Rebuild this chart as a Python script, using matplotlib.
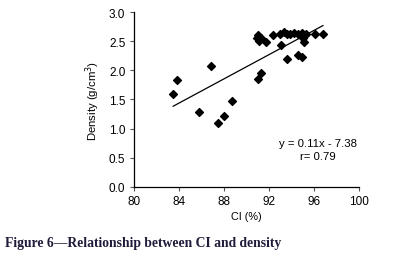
import numpy as np
from matplotlib import pyplot as plt

# values
ci = [83.5, 83.8, 85.8, 86.9, 87.5, 88.0, 88.7, 91.0, 91.3,
      90.95, 91.0, 91.1, 91.3, 91.7, 92.4, 93.0, 93.3, 93.6, 93.85,
      94.2, 94.6, 94.9, 95.2, 95.3, 95.0, 93.1, 93.6, 94.6, 94.9,
      95.1, 96.1, 96.8]
density = [1.60, 1.83, 1.29, 2.07, 1.09, 1.22, 1.47, 1.85, 1.95,
           2.56, 2.60, 2.51, 2.55, 2.48, 2.60, 2.63, 2.65, 2.63, 2.62,
           2.64, 2.62, 2.64, 2.60, 2.63, 2.56, 2.43, 2.19, 2.26, 2.22,
           2.49, 2.63, 2.63]
fit_slope = 0.104
fit_intercept = -7.30
eq_text = 'y = 0.11x - 7.38\nr= 0.79'
x_ticks = [80, 84, 88, 92, 96, 100]
y_ticks = [0.0, 0.5, 1.0, 1.5, 2.0, 2.5, 3.0]

plt.rcParams['font.family'] = ['Liberation Sans', 'DejaVu Sans']

fig = plt.figure(figsize=(3.98, 2.55), dpi=100)
ax = fig.add_axes([0.336, 0.263, 0.566, 0.686])

ax.scatter(ci, density, marker='D', s=16, color='black', zorder=3)
x_line = np.array([min(ci), max(ci)])
ax.plot(x_line, fit_slope * x_line + fit_intercept, color='black', lw=0.9)

ax.set_xlim(80, 100)
ax.set_ylim(0, 3.0)
ax.set_xticks(x_ticks)
ax.set_yticks(y_ticks)
ax.set_yticklabels(['%.1f' % v for v in y_ticks])
ax.tick_params(labelsize=8.5, length=3, width=0.8, color='#555555', pad=3)
for s in ['top', 'right']:
    ax.spines[s].set_visible(False)
for s in ['left', 'bottom']:
    ax.spines[s].set_linewidth(0.9)

ax.set_xlabel('CI (%)', fontsize=7.8, labelpad=3)
ax.set_ylabel('Density (g/cm$^3$)', fontsize=8.2, labelpad=5)

ax.text(0.818, 0.212, eq_text, transform=ax.transAxes, ha='center',
        va='center', fontsize=8.2, linespacing=1.35)

fig.text(0.013, 0.045, 'Figure 6\u2014Relationship between CI and density',
         family=['Liberation Serif', 'DejaVu Serif'], fontweight='bold',
         fontsize=9.8, color='#1f1b3a', ha='left', va='center')

fig.savefig('out.png', dpi=100)
